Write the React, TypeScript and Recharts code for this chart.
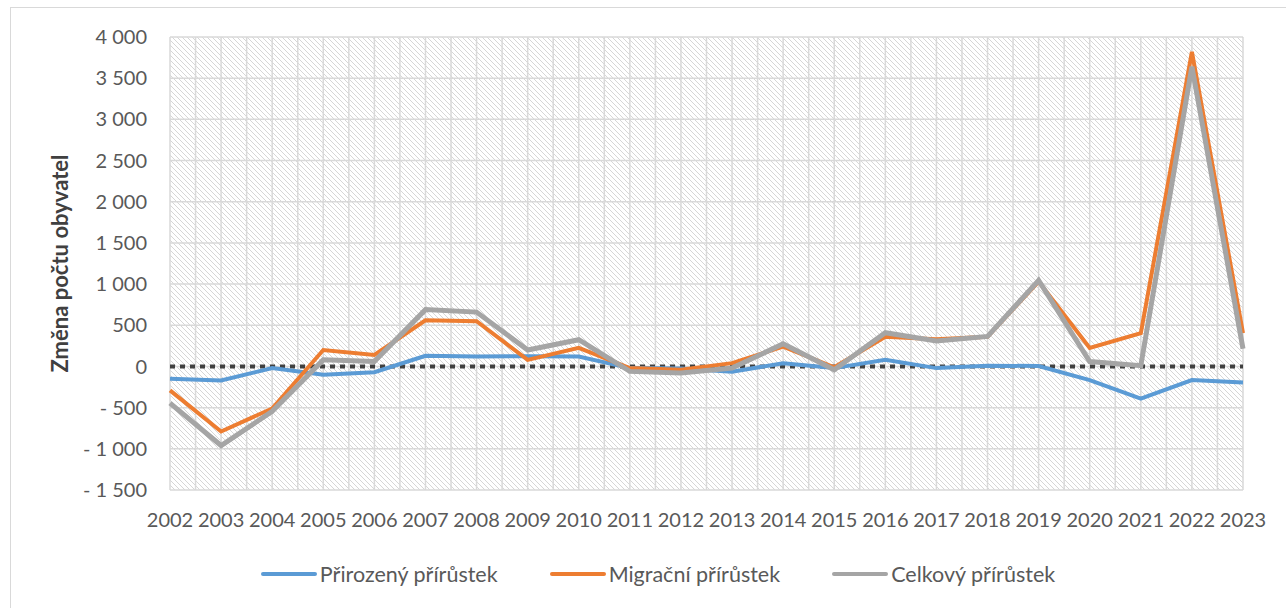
import React from "react";
import {
  LineChart,
  Line,
  XAxis,
  YAxis,
  CartesianGrid,
  ReferenceLine,
} from "recharts";

// roky a hodnoty
const years = [
  "2002", "2003", "2004", "2005", "2006", "2007", "2008", "2009", "2010", "2011", "2012",
  "2013", "2014", "2015", "2016", "2017", "2018", "2019", "2020", "2021", "2022", "2023",
];
const prirozeny = [
  -150, -170, -20, -100, -70, 130, 120, 125, 120, -20, -25,
  -65, 40, -20, 80, -20, 10, 5, -165, -390, -165, -195,
];
const migracni = [
  -290, -790, -510, 200, 140, 560, 550, 80, 225, -20, -40,
  40, 240, -10, 360, 330, 360, 1030, 225, 405, 3820, 405,
];
const celkovy = [
  -445, -960, -545, 80, 60, 690, 660, 200, 325, -60, -80,
  -20, 275, -40, 410, 310, 365, 1045, 60, 10, 3640, 215,
];
const yTicks = [-1500, -1000, -500, 0, 500, 1000, 1500, 2000, 2500, 3000, 3500, 4000];

const series = [
  { key: "prirozeny", name: "Přirozený přírůstek", color: "#5B9BD5", width: 4 },
  { key: "migracni", name: "Migrační přírůstek", color: "#ED7D31", width: 4 },
  { key: "celkovy", name: "Celkový přírůstek", color: "#A5A5A5", width: 5 },
];

const data = years.map((y, i) => ({
  year: y,
  prirozeny: prirozeny[i],
  migracni: migracni[i],
  celkovy: celkovy[i],
}));

const FONT = "Lato, 'Open Sans', sans-serif";

// Excel-like accounting format: "- 1 000"
const formatTick = (v: number) => {
  const abs = Math.abs(v)
    .toString()
    .replace(/\B(?=(\d{3})+(?!\d))/g, " ");
  return v < 0 ? "- " + abs : abs;
};

const YLabel = ({ viewBox }: any) => {
  const x = 59;
  const y = viewBox.y + viewBox.height / 2;
  return (
    <text
      x={x}
      y={y}
      transform={`rotate(-90, ${x}, ${y})`}
      textAnchor="middle"
      dominantBaseline="central"
      fontFamily={FONT}
      fontSize={22}
      fontWeight="bold"
      fill="#404040"
    >
      Změna počtu obyvatel
    </text>
  );
};

export default function App() {
  return (
    <div>
      <div
        style={{
          position: "absolute",
          left: 10,
          top: 7,
          width: 1300,
          height: 620,
          border: "1px solid #D9D9D9",
          boxSizing: "border-box",
        }}
      />
      <div style={{ position: "absolute", left: 0, top: 0 }}>
        <LineChart
          width={1286}
          height={608}
          data={data}
          margin={{ top: 37, right: 43, left: 0, bottom: 78 }}
        >
          <defs>
            <pattern id="hatch" patternUnits="userSpaceOnUse" width="5" height="5">
              <rect width="5" height="5" fill="#ffffff" />
              <path
                d="M0,0 L5,5 M-1,4 L1,6 M4,-1 L6,1"
                stroke="#D6D6D6"
                strokeWidth={1}
              />
            </pattern>
          </defs>
          <CartesianGrid
            fill="url(#hatch)"
            stroke="#D9D9D9"
            strokeWidth={1.5}
            verticalCoordinatesGenerator={({ offset }: any) =>
              Array.from({ length: (years.length - 1) * 2 + 1 }, (_, i) =>
                offset.left + (i * offset.width) / ((years.length - 1) * 2)
              )
            }
          />
          <XAxis
            dataKey="year"
            height={40}
            axisLine={false}
            tickLine={false}
            tickSize={0}
            tickMargin={23}
            interval={0}
            tick={{ fontFamily: FONT, fontSize: 20, fill: "#595959" }}
          />
          <YAxis
            width={170}
            domain={[-1500, 4000]}
            ticks={yTicks}
            tickFormatter={formatTick}
            axisLine={false}
            tickLine={false}
            tickSize={0}
            tickMargin={23}
            tick={{ fontFamily: FONT, fontSize: 20, fill: "#595959" }}
            label={YLabel}
          />
          <ReferenceLine
            y={0}
            stroke="#404040"
            strokeWidth={4}
            strokeDasharray="5 5"
          />
          {series.map((s) => (
            <Line
              key={s.key}
              type="linear"
              dataKey={s.key}
              name={s.name}
              stroke={s.color}
              strokeWidth={s.width}
              dot={false}
              activeDot={false}
              isAnimationActive={false}
            />
          ))}
        </LineChart>
      </div>
      <div
        style={{
          position: "absolute",
          left: 0,
          top: 561,
          width: 1316,
          display: "flex",
          justifyContent: "center",
          gap: 52,
          fontFamily: FONT,
          fontSize: 21.5,
          color: "#595959",
        }}
      >
        {series.map((s) => (
          <div key={s.key} style={{ display: "flex", alignItems: "center", gap: 3 }}>
            <div style={{ width: 56, height: 4, background: s.color, borderRadius: 2 }} />
            <span>{s.name}</span>
          </div>
        ))}
      </div>
    </div>
  );
}
